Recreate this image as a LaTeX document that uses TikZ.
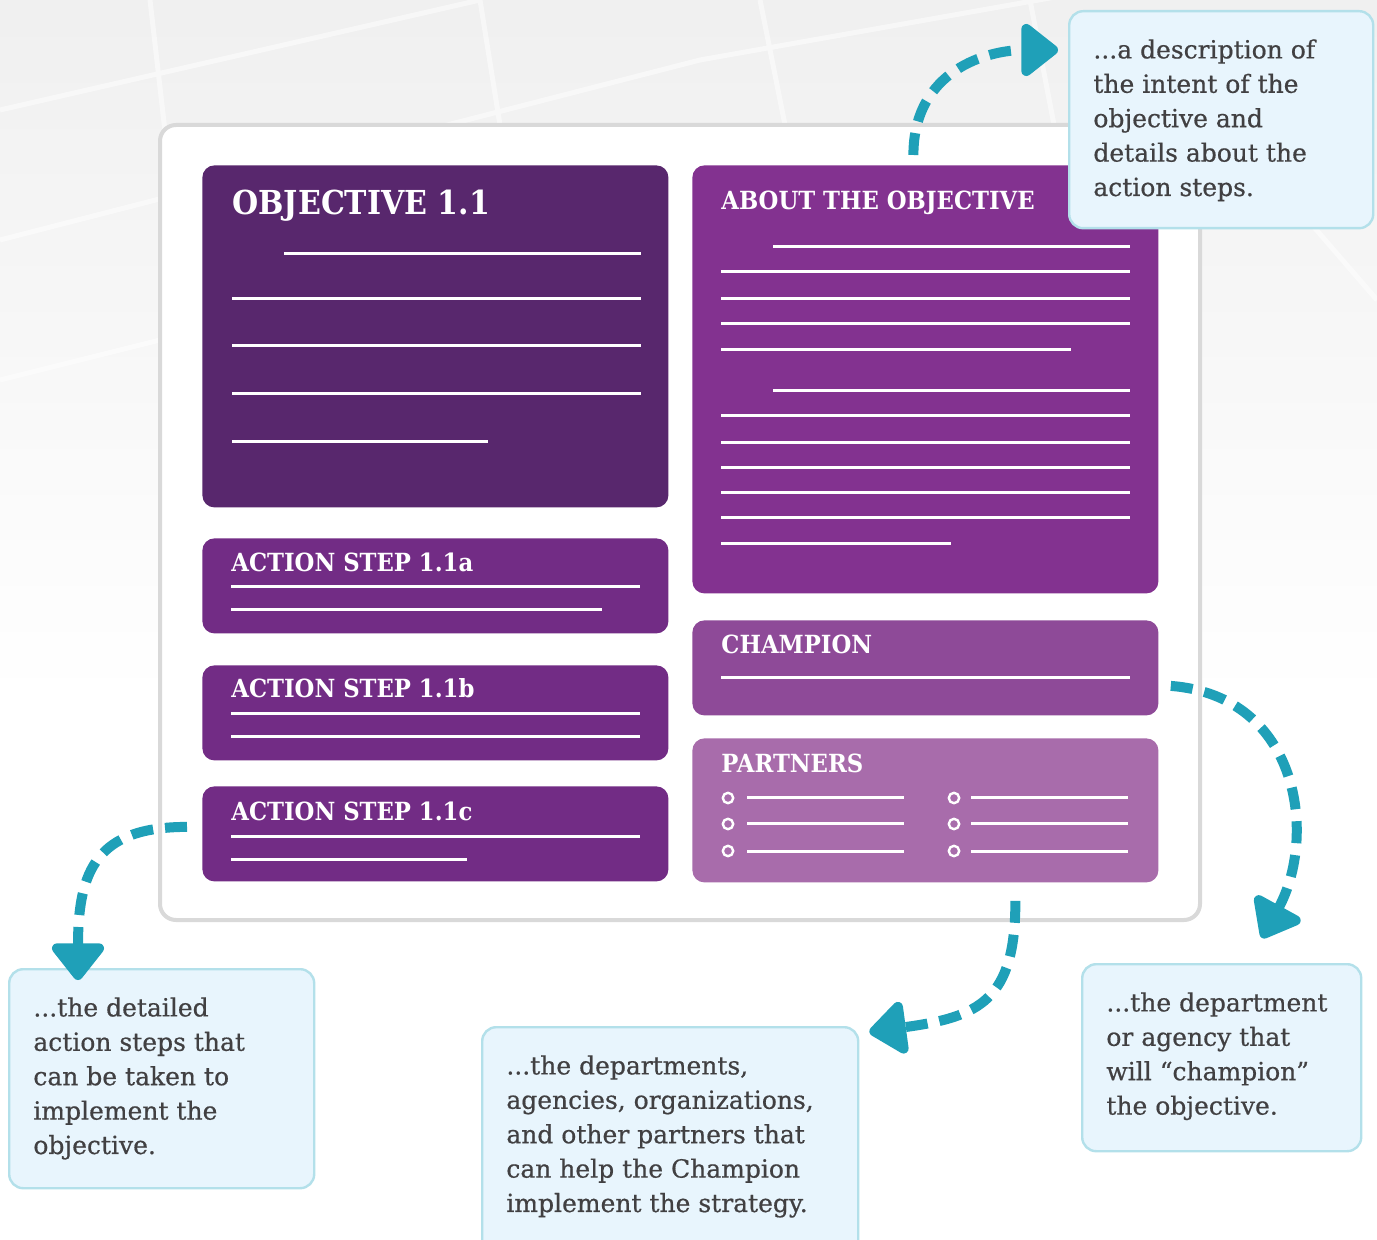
\documentclass[tikz,border=0pt]{standalone}
\usepackage{fontspec}
\setmainfont{DejaVu Serif}
\newfontfamily\headfont[FakeStretch=0.91]{DejaVu Serif}
\newfontfamily\notefont[FakeBold=0.6]{DejaVu Serif}
\usetikzlibrary{arrows.meta}

\definecolor{objpurple}{HTML}{58276D}
\definecolor{aboutpurple}{HTML}{833290}
\definecolor{steppurple}{HTML}{722C85}
\definecolor{champpurple}{HTML}{8E4A98}
\definecolor{partnerpurple}{HTML}{A86CAB}
\definecolor{notefill}{HTML}{E8F5FD}
\definecolor{noteline}{HTML}{B3E0EA}
\definecolor{noteink}{HTML}{414042}
\definecolor{flowteal}{HTML}{1FA0B8}
\definecolor{framegray}{HTML}{D9D9D9}

\begin{document}
\begin{tikzpicture}[x=0.5pt, y=-0.5pt,
    card/.style={rounded corners=6pt, anchor=north west, inner sep=0pt, minimum width=233pt},
    heading/.style={font=\headfont\bfseries\fontsize{12.5}{14}\selectfont, text=white, anchor=base west, inner sep=0pt},
    fillline/.style={white, line width=1.5pt},
    street/.style={white, line width=2.5pt, opacity=0.5},
    note/.style={fill=notefill, draw=noteline, line width=1.2pt, rounded corners=7pt, anchor=north west, inner sep=0pt},
    notetext/.style={text=noteink, align=left, anchor=north west, inner sep=0pt, font=\notefont\fontsize{12.5}{17.2}\selectfont},
    flow/.style={flowteal, line width=5pt, dash pattern=on 11pt off 6pt, -{Triangle[width=30pt,length=20pt,round]}}]

    \useasboundingbox (0,0) rectangle (1377,1240);
    \clip (0,0) rectangle (1377,1240);
    \fill[white] (0,0) rectangle (1377,1240);
    \shade[top color=black!6, bottom color=white] (0,0) rectangle (1377,700);
    % faint street grid behind everything
    \draw[street] (0,240) -- (700,60) (0,110) -- (480,0) (0,380) -- (600,230)
        (150,0) -- (230,700) (480,0) -- (560,500) (760,0) -- (820,300)
        (1030,0) -- (1080,260) (700,60) -- (1377,-60) (1377,300) -- (1230,130);

    % page frame
    \draw[framegray, fill=white, line width=2pt, rounded corners=8pt] (160,125) rectangle (1200,920);

    % left column
    \node[card, fill=objpurple, minimum height=171pt] (objective) at (202,165) {};
    \node[heading, font=\headfont\bfseries\fontsize{16.5}{18}\selectfont] at (232,215) {OBJECTIVE 1.1};
    \node[card, fill=steppurple, minimum height=47.5pt] (stepa) at (202,538) {};
    \node[heading] at (231,572) {ACTION STEP 1.1a};
    \node[card, fill=steppurple, minimum height=47.5pt] (stepb) at (202,665) {};
    \node[heading] at (231,698) {ACTION STEP 1.1b};
    \node[card, fill=steppurple, minimum height=47.5pt] (stepc) at (202,786) {};
    \node[heading] at (231,820) {ACTION STEP 1.1c};

    % right column
    \node[card, fill=aboutpurple, minimum height=214pt] (about) at (692,165) {};
    \node[heading] at (721,210) {ABOUT THE OBJECTIVE};
    \node[card, fill=champpurple, minimum height=47.5pt] (champion) at (692,620) {};
    \node[heading] at (721,654) {CHAMPION};
    \node[card, fill=partnerpurple, minimum height=72pt] (partners) at (692,738) {};
    \node[heading] at (721,773) {PARTNERS};

    % placeholder text lines
    \foreach \y/\a/\b in {254/284/641, 299/232/641, 346/232/641, 394/232/641, 442/232/488,
        587/231/640, 610/231/602, 714/231/640, 737/231/640, 836/231/640, 859/231/467,
        247/773/1130, 272/721/1130, 299/721/1130, 324/721/1130, 350/721/1071,
        391/773/1130, 416/721/1130, 443/721/1130, 468/721/1130, 493/721/1130, 518/721/1130, 544/721/951,
        678/721/1130}
        \draw[fillline] (\a,\y) -- (\b,\y);
    \foreach \y in {798, 824, 851} {
        \draw[white, line width=1.2pt] (728,\y) circle (2.6pt);
        \draw[fillline] (747,\y) -- (904,\y);
        \draw[white, line width=1.2pt] (954,\y) circle (2.6pt);
        \draw[fillline] (971,\y) -- (1128,\y);
    }

    % callouts
    \node[note, minimum width=152pt, minimum height=108.5pt] (descnote) at (1068,10) {};
    \node[notetext] at ([xshift=12.5pt, yshift=-14.5pt]descnote.north west)
        {...a description of\\the intent of the\\objective and\\details about the\\action steps.};
    \node[note, minimum width=152.5pt, minimum height=109.5pt] (stepsnote) at (8,968) {};
    \node[notetext] at ([xshift=12.5pt, yshift=-14.5pt]stepsnote.north west)
        {...the detailed\\action steps that\\can be taken to\\implement the\\objective.};
    \node[note, minimum width=188pt, minimum height=120pt] (partnersnote) at (481,1026) {};
    \node[notetext] at ([xshift=12.5pt, yshift=-14.5pt]partnersnote.north west)
        {...the departments,\\agencies, organizations,\\and other partners that\\can help the Champion\\implement the strategy.};
    \node[note, minimum width=139.5pt, minimum height=93.5pt] (champnote) at (1081,963) {};
    \node[notetext] at ([xshift=12.5pt, yshift=-14.5pt]champnote.north west)
        {...the department\\or agency that\\will “champion”\\the objective.};

    % arrows
    \draw[flow] ([xshift=-6pt, yshift=5pt]about.north) .. controls +(0,-85) and +(-70,0) .. ([xshift=-5pt, yshift=-20pt]descnote.north west);
    \draw[flow] ([xshift=-7.5pt, yshift=3.5pt]stepc.west) .. controls +(-90,0) and +(0,-110) .. ([xshift=35pt, yshift=-6pt]stepsnote.north west);
    \draw[flow] ([xshift=45pt, yshift=-9pt]partners.south) .. controls +(0,100) and +(110,-15) .. ([xshift=5pt, yshift=-3pt]partnersnote.north east);
    \draw[flow] ([xshift=6pt, yshift=-9pt]champion.east) .. controls +(130,10) and +(55,-100) .. ([xshift=90.5pt, yshift=12.5pt]champnote.north west);
\end{tikzpicture}
\end{document}
